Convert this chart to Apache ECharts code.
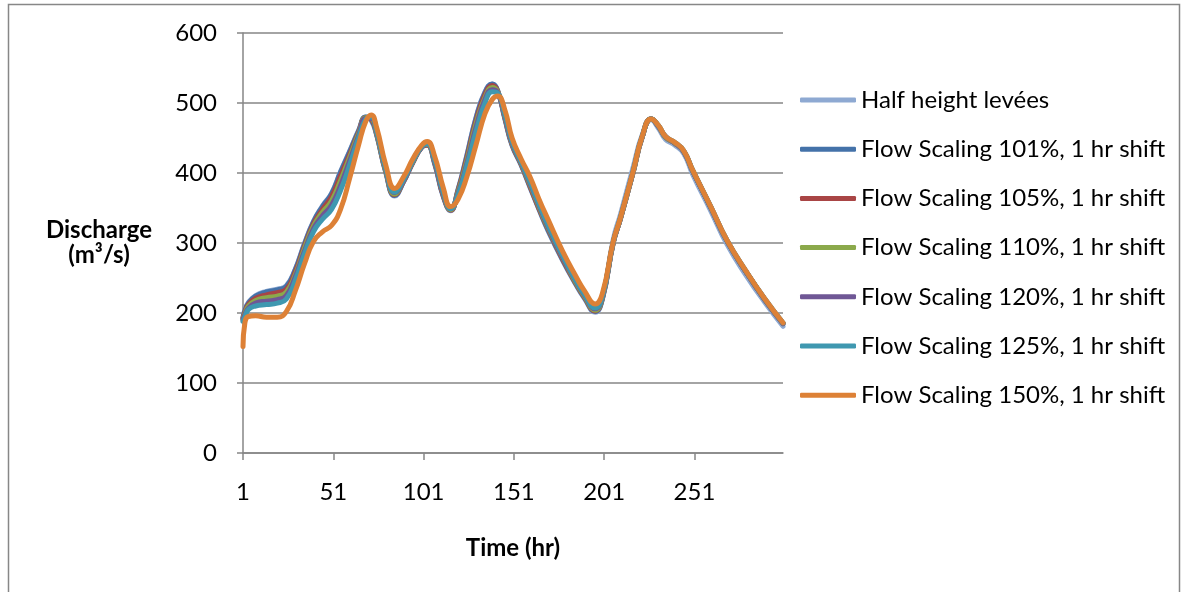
<!DOCTYPE html>
<html><head><meta charset="utf-8">
<script src="https://cdn.jsdelivr.net/npm/echarts@6/dist/echarts.min.js"></script>
<style>html,body{margin:0;padding:0;background:#fff}#c{width:1190px;height:592px}</style>
</head><body><div id="c"></div>
<script>
// Time (hr) sample points
const hours = [1,2,4,8,14,20,25,30,35,40,45,50,55,60,65,69,72,75,80,85,90,95,100,103,107,112,116,120,125,130,135,139,142,146,150,155,160,165,170,178,185,190,196,200,206,210,217,222,227,231,235,240,245,250,260,269,280,290,300];

const halfHeight = [194,204,215,225,231,234,239,263,299,331,353,371,402,431,461,480,475,454,401,367,388,415,437,440,414,365,346,376,426,479,516,527,517,477,439,411,379,347,317,275,242,221,201,221,305,341,408,454,476,464,448,440,428,398,346,298,252,215,181];
const scale101 = [193,203,214,224,230,233,238,262,298,330,352,370,401,430,460,480,476,455,402,368,388,415,437,440,415,366,347,375,425,478,515,527,518,478,440,412,380,348,318,276,243,222,202,220,300,335,401,451,477,467,451,443,431,403,351,303,257,219,185];
const scale105 = [192,201,212,221,226,229,234,259,295,327,348,366,396,426,458,479,477,456,403,369,389,415,437,440,416,367,347,374,422,474,512,525,517,479,441,413,381,349,320,277,244,223,203,221,300,335,401,451,477,467,451,443,431,403,351,303,257,219,185];
const scale110 = [191,199,210,218,222,224,230,255,292,324,344,360,389,422,456,479,478,457,404,370,390,416,438,441,417,369,348,372,418,470,508,522,516,481,442,414,383,351,321,279,245,224,204,222,301,335,401,451,477,467,451,443,431,403,351,303,257,219,185];
const scale120 = [190,197,207,214,217,219,225,252,288,320,339,354,382,417,453,478,478,459,406,372,390,417,438,442,418,370,349,370,414,465,505,519,515,482,443,415,385,353,323,280,247,226,206,223,301,335,401,451,477,467,452,443,431,403,351,303,257,219,185];
const scale125 = [188,194,205,210,212,214,220,247,284,316,334,348,375,411,450,477,480,460,407,373,391,417,438,442,420,372,349,368,410,459,500,516,514,484,445,416,387,355,325,282,248,227,207,224,301,336,402,452,477,468,452,444,432,404,352,304,258,220,186];
const scale150 = [152,185,195,196,194,194,202,232,270,302,316,325,348,392,440,474,483,465,412,378,395,420,440,445,425,378,352,362,395,440,485,505,510,490,450,420,394,362,333,288,254,232,213,228,302,336,402,452,477,468,452,444,432,404,352,304,258,220,186];

const seriesNames = ['Half height levées','Flow Scaling 101%, 1 hr shift','Flow Scaling 105%, 1 hr shift','Flow Scaling 110%, 1 hr shift','Flow Scaling 120%, 1 hr shift','Flow Scaling 125%, 1 hr shift','Flow Scaling 150%, 1 hr shift'];
const seriesValues = [halfHeight, scale101, scale105, scale110, scale120, scale125, scale150];
const colors = ['#8EA9D2','#4472A9','#A94545','#8BA94B','#6F5795','#3F98B0','#DD8136'];
const xTickValues = [1,51,101,151,201,251];

const FONT = 'Lato';
const AXIS_GREY = '#868686';
const chart = echarts.init(document.getElementById('c'), null, {renderer:'canvas'});
chart.setOption({
  animation:false,
  backgroundColor:'#ffffff',
  textStyle:{fontFamily:FONT},
  grid:{left:243,right:407,top:33,bottom:139,containLabel:false},
  xAxis:{
    type:'value', min:1, max:300,
    name:'Time (hr)', nameLocation:'middle', nameGap:83,
    nameTextStyle:{fontFamily:FONT,fontSize:24,fontWeight:'bold',color:'#000'},
    axisLine:{show:true,lineStyle:{color:AXIS_GREY,width:1.5}},
    axisTick:{show:true,length:7,lineStyle:{color:AXIS_GREY,width:1.5},customValues:xTickValues},
    axisLabel:{fontFamily:FONT,fontSize:24,color:'#000',margin:27,customValues:xTickValues},
    splitLine:{show:false}
  },
  yAxis:{
    type:'value', min:0, max:600, interval:100,
    name:'Discharge\n(m³/s)', nameLocation:'middle', nameGap:144, nameRotate:0,
    nameTextStyle:{fontFamily:FONT,fontSize:24,fontWeight:'bold',color:'#000',align:'center',verticalAlign:'middle',lineHeight:25},
    axisLine:{show:true,lineStyle:{color:AXIS_GREY,width:1.5}},
    axisTick:{show:true,length:6,lineStyle:{color:AXIS_GREY,width:1.5}},
    axisLabel:{fontFamily:FONT,fontSize:24,color:'#000',margin:26},
    splitLine:{show:true,lineStyle:{color:AXIS_GREY,width:1.5}}
  },
  legend:{
    orient:'vertical', left:795, top:83, itemWidth:56, itemHeight:5, itemGap:25.2,
    icon:'roundRect',
    textStyle:{fontFamily:FONT,fontSize:24,color:'#000',lineHeight:24},
    data:seriesNames
  },
  graphic:[{type:'rect',shape:{x:8.5,y:4.5,width:1171,height:620},style:{fill:'none',stroke:'#878787',lineWidth:1.5},silent:true,z:-1}],
  series: seriesNames.map((n,i)=>({
    name:n, type:'line', smooth:0.5, symbol:'none', showSymbol:false,
    color:colors[i],
    itemStyle:{color:colors[i]},
    lineStyle:{width:5,color:colors[i],cap:'round',join:'round'},
    data: hours.map((h,k)=>[h, seriesValues[i][k]])
  }))
});
</script></body></html>
